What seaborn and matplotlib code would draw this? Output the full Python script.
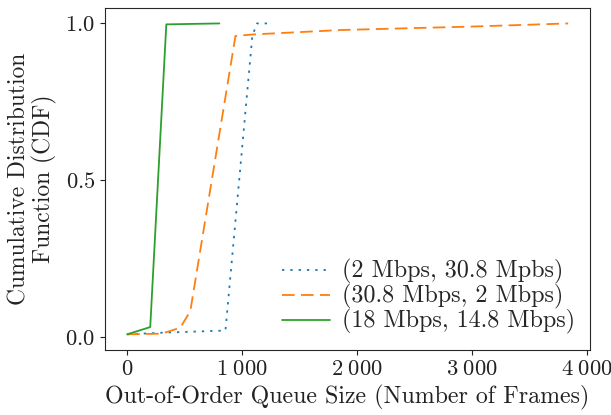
import matplotlib
matplotlib.use("Agg")
import matplotlib.pyplot as plt
import seaborn as sns
import pandas as pd
from matplotlib.ticker import FuncFormatter

labels = ["(2 Mbps, 30.8 Mpbs)", "(30.8 Mbps, 2 Mbps)", "(18 Mbps, 14.8 Mbps)"]
x_blue = [0, 300, 856, 1090, 1130, 1250]
y_blue = [0.01, 0.015, 0.022, 0.96, 1.0, 1.0]
x_orange = [0, 300, 463, 550, 943, 1100, 1860, 3000, 3840]
y_orange = [0.01, 0.012, 0.031, 0.084, 0.96, 0.965, 0.979, 0.99, 1.0]
x_green = [0, 201, 341, 803]
y_green = [0.01, 0.033, 0.997, 1.0]

sns.set_style("ticks")
plt.rcParams["font.family"] = ["cmr10", "DejaVu Serif"]
plt.rcParams["mathtext.fontset"] = "cm"
plt.rcParams["axes.formatter.use_mathtext"] = True

fig = plt.figure(figsize=(6.11, 4.15), dpi=100)
ax = fig.add_axes([0.172, 0.157, 0.794, 0.824])

colors = sns.color_palette("tab10")
series = [(x_blue, y_blue, (0, (1.3, 3.3)), colors[0]),
          (x_orange, y_orange, (0, (7, 3.5)), colors[1]),
          (x_green, y_green, "-", colors[2])]
for (xs, ys, ls, c), lab in zip(series, labels):
    df = pd.DataFrame({"x": xs, "y": ys})
    sns.lineplot(data=df, x="x", y="y", ax=ax, color=c, linestyle=ls,
                 linewidth=1.3, label=lab, estimator=None, sort=False)

ax.set_xticks([0, 1000, 2000, 3000, 4000])
ax.set_yticks([0.0, 0.5, 1.0])
ax.xaxis.set_major_formatter(FuncFormatter(
    lambda v, p: "$" + f"{int(round(v)):,}".replace(",", r"\;") + "$"))
ax.yaxis.set_major_formatter(FuncFormatter(lambda v, p: f"${v:.1f}$"))
ax.tick_params(labelsize=14, colors="#222222", labelcolor="#222222")
xl = ax.set_xlabel("Out-of-Order Queue Size (Number of Frames)", fontsize=16,
                   labelpad=4, color="#222222")
yl = ax.set_ylabel("Cumulative Distribution\nFunction (CDF)", fontsize=16,
                   color="#222222", linespacing=1.1, labelpad=6)
leg = ax.legend(loc="lower right", frameon=False, fontsize=16, handlelength=2.2,
                handletextpad=0.5, labelspacing=0.0, borderaxespad=0.3)

# fit text sizes to the reference's measured extents (pixels)
for _ in range(3):
    fig.canvas.draw()
    r = fig.canvas.get_renderer()
    w = xl.get_window_extent(r).width
    xl.set_fontsize(xl.get_fontsize() * 484.0 / w)
    h = yl.get_window_extent(r).height
    yl.set_fontsize(yl.get_fontsize() * 252.0 / h)
    lt = leg.get_texts()[2]
    w = lt.get_window_extent(r).width
    nfs = lt.get_fontsize() * 233.0 / w
    for t in leg.get_texts():
        t.set_fontsize(nfs)
    tl = [t for t in ax.get_yticklabels() if t.get_text()][-1]
    w = tl.get_window_extent(r).width
    nts = tl.get_fontsize() * 30.0 / w
    ax.tick_params(labelsize=nts)

fig.savefig("out.png", dpi=100)
